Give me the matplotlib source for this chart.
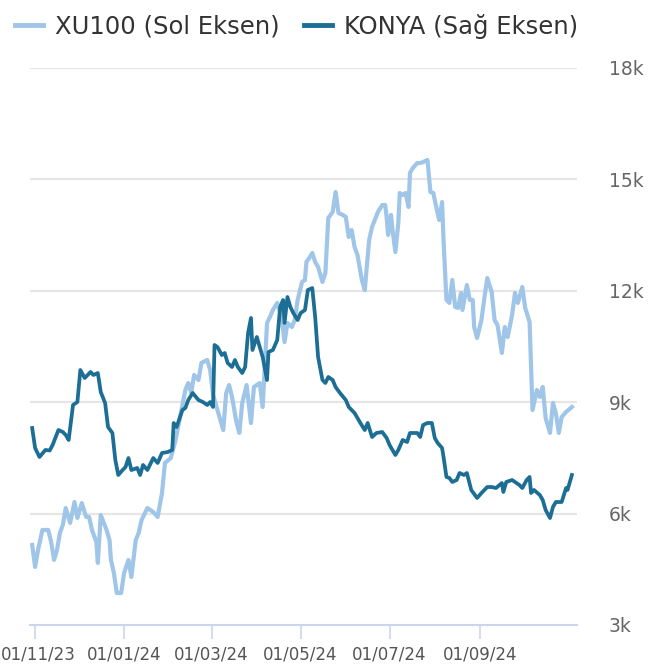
import matplotlib
matplotlib.use("Agg")
import matplotlib.pyplot as plt
import matplotlib.dates as mdates
import matplotlib.transforms as mtransforms
from matplotlib import font_manager
from matplotlib.ticker import FixedLocator, FuncFormatter
import pandas as pd

# XU100 (left axis, hidden scale)
xu_dates = [
    "2023-10-30", "2023-11-01", "2023-11-03", "2023-11-06", "2023-11-10", "2023-11-12",
    "2023-11-14", "2023-11-16", "2023-11-18", "2023-11-20", "2023-11-22", "2023-11-25",
    "2023-11-28", "2023-11-30", "2023-12-03", "2023-12-06", "2023-12-08", "2023-12-10",
    "2023-12-13", "2023-12-14", "2023-12-16", "2023-12-20", "2023-12-22", "2023-12-23",
    "2023-12-25", "2023-12-27", "2023-12-30", "2024-01-01", "2024-01-04", "2024-01-06",
    "2024-01-09", "2024-01-11", "2024-01-13", "2024-01-17", "2024-01-21", "2024-01-24",
    "2024-01-27", "2024-01-29", "2024-02-02", "2024-02-05", "2024-02-08", "2024-02-12",
    "2024-02-14", "2024-02-16", "2024-02-18", "2024-02-21", "2024-02-23", "2024-02-27",
    "2024-02-29", "2024-03-02", "2024-03-05", "2024-03-09", "2024-03-11", "2024-03-13",
    "2024-03-15", "2024-03-18", "2024-03-20", "2024-03-22", "2024-03-25", "2024-03-28",
    "2024-03-30", "2024-04-03", "2024-04-05", "2024-04-08", "2024-04-10", "2024-04-12",
    "2024-04-15", "2024-04-18", "2024-04-20", "2024-04-22", "2024-04-25", "2024-04-27",
    "2024-04-29", "2024-05-02", "2024-05-04", "2024-05-05", "2024-05-07", "2024-05-09",
    "2024-05-11", "2024-05-13", "2024-05-16", "2024-05-18", "2024-05-20", "2024-05-23",
    "2024-05-25", "2024-05-27", "2024-05-30", "2024-06-01", "2024-06-03", "2024-06-05",
    "2024-06-07", "2024-06-09", "2024-06-12", "2024-06-14", "2024-06-15", "2024-06-17",
    "2024-06-19", "2024-06-23", "2024-06-26", "2024-06-28", "2024-06-29", "2024-06-30",
    "2024-07-02", "2024-07-03", "2024-07-05", "2024-07-07", "2024-07-08", "2024-07-10",
    "2024-07-12", "2024-07-14", "2024-07-15", "2024-07-17", "2024-07-20", "2024-07-22",
    "2024-07-24", "2024-07-27", "2024-07-29", "2024-07-31", "2024-08-02", "2024-08-04",
    "2024-08-06", "2024-08-07", "2024-08-09", "2024-08-11", "2024-08-13", "2024-08-15",
    "2024-08-17", "2024-08-19", "2024-08-20", "2024-08-23", "2024-08-25", "2024-08-27",
    "2024-08-28", "2024-08-30", "2024-09-02", "2024-09-04", "2024-09-06", "2024-09-09",
    "2024-09-11", "2024-09-13", "2024-09-16", "2024-09-18", "2024-09-20", "2024-09-23",
    "2024-09-25", "2024-09-27", "2024-09-30", "2024-10-02", "2024-10-05", "2024-10-07",
    "2024-10-10", "2024-10-12", "2024-10-14", "2024-10-16", "2024-10-19", "2024-10-21",
    "2024-10-23", "2024-10-25", "2024-10-27", "2024-10-30", "2024-11-03",
]
xu_values = [
    7718, 7521, 7673, 7853, 7853, 7745,
    7584, 7673, 7826, 7898, 8050, 7916,
    8104, 7961, 8095, 7970, 7970, 7853,
    7745, 7557, 7987, 7853, 7763, 7584,
    7467, 7287, 7287, 7467, 7584, 7431,
    7763, 7826, 7943, 8050, 8014, 7970,
    8185, 8454, 8499, 8643, 8840, 9110,
    9172, 9083, 9244, 9199, 9352, 9379,
    9289, 9065, 8930, 8750, 9083, 9154,
    9047, 8822, 8724, 8993, 9154, 8813,
    9136, 9172, 8957, 9711, 9765, 9828,
    9891, 9765, 9540, 9711, 9675, 9738,
    9918, 10079, 10097, 10259, 10295, 10339,
    10259, 10214, 10079, 10160, 10654, 10707,
    10887, 10698, 10681, 10663, 10483, 10546,
    10393, 10322, 10097, 10007, 10160, 10456,
    10573, 10707, 10770, 10770, 10663, 10501,
    10681, 10546, 10348, 10609, 10878, 10860,
    10878, 10752, 11058, 11103, 11147, 11147,
    11156, 11174, 10887, 10878, 10752, 10636,
    10797, 10456, 9918, 9891, 10097, 9855,
    9846, 9980, 9828, 10052, 9918, 9918,
    9675, 9576, 9738, 9935, 10115, 9989,
    9738, 9693, 9442, 9675, 9585, 9783,
    9980, 9891, 10034, 9846, 9720, 8930,
    9110, 9047, 9137, 8858, 8724, 8993,
    8903, 8724, 8867, 8912, 8957,
]

# KONYA (right axis)
ko_dates = [
    "2023-10-30", "2023-11-01", "2023-11-04", "2023-11-08", "2023-11-11", "2023-11-13",
    "2023-11-17", "2023-11-20", "2023-11-22", "2023-11-24", "2023-11-27", "2023-11-30",
    "2023-12-02", "2023-12-05", "2023-12-09", "2023-12-11", "2023-12-14", "2023-12-16",
    "2023-12-19", "2023-12-21", "2023-12-24", "2023-12-26", "2023-12-28", "2023-12-31",
    "2024-01-02", "2024-01-04", "2024-01-06", "2024-01-10", "2024-01-12", "2024-01-14",
    "2024-01-17", "2024-01-21", "2024-01-24", "2024-01-27", "2024-01-31", "2024-02-03",
    "2024-02-04", "2024-02-06", "2024-02-10", "2024-02-12", "2024-02-14", "2024-02-17",
    "2024-02-21", "2024-02-24", "2024-02-27", "2024-02-29", "2024-03-02", "2024-03-03",
    "2024-03-05", "2024-03-08", "2024-03-10", "2024-03-12", "2024-03-15", "2024-03-17",
    "2024-03-19", "2024-03-22", "2024-03-24", "2024-03-26", "2024-03-28", "2024-03-29",
    "2024-04-01", "2024-04-03", "2024-04-05", "2024-04-08", "2024-04-09", "2024-04-12",
    "2024-04-15", "2024-04-17", "2024-04-19", "2024-04-20", "2024-04-22", "2024-04-24",
    "2024-04-26", "2024-04-29", "2024-05-01", "2024-05-04", "2024-05-06", "2024-05-09",
    "2024-05-11", "2024-05-13", "2024-05-16", "2024-05-18", "2024-05-20", "2024-05-23",
    "2024-05-25", "2024-05-28", "2024-06-01", "2024-06-03", "2024-06-05", "2024-06-07",
    "2024-06-11", "2024-06-14", "2024-06-16", "2024-06-19", "2024-06-22", "2024-06-26",
    "2024-06-29", "2024-07-01", "2024-07-05", "2024-07-07", "2024-07-10", "2024-07-13",
    "2024-07-15", "2024-07-20", "2024-07-22", "2024-07-24", "2024-07-27", "2024-07-30",
    "2024-08-01", "2024-08-03", "2024-08-06", "2024-08-07", "2024-08-09", "2024-08-11",
    "2024-08-13", "2024-08-16", "2024-08-18", "2024-08-21", "2024-08-23", "2024-08-26",
    "2024-08-30", "2024-09-02", "2024-09-06", "2024-09-09", "2024-09-12", "2024-09-16",
    "2024-09-17", "2024-09-19", "2024-09-23", "2024-09-25", "2024-09-28", "2024-09-30",
    "2024-10-03", "2024-10-05", "2024-10-06", "2024-10-08", "2024-10-12", "2024-10-14",
    "2024-10-16", "2024-10-19", "2024-10-21", "2024-10-23", "2024-10-27", "2024-10-30",
    "2024-10-31", "2024-11-03",
]
ko_values = [
    8305, 7767, 7524, 7713, 7700, 7847,
    8251, 8197, 8117, 7982, 8925, 9006,
    9867, 9652, 9813, 9733, 9786, 9275,
    8978, 8332, 8170, 7443, 7040, 7174,
    7255, 7497, 7174, 7228, 7040, 7309,
    7174, 7497, 7363, 7632, 7659, 7713,
    8440, 8332, 8790, 8844, 9059, 9248,
    9059, 9005, 8925, 9005, 8871, 10540,
    10487, 10271, 10325, 10056, 9948, 10136,
    9948, 9786, 9948, 10864, 11268, 10406,
    10756, 10487, 10217, 9598, 10352, 10406,
    10675, 11564, 11752, 11133, 11833, 11564,
    11402, 11214, 11402, 11483, 12022, 12075,
    11295, 10217, 9598, 9517, 9679, 9598,
    9409, 9248, 9059, 8871, 8790, 8709,
    8440, 8251, 8440, 8063, 8171, 8197,
    8036, 7847, 7578, 7713, 7982, 7928,
    8171, 8171, 8063, 8386, 8440, 8440,
    8036, 7901, 7767, 7524, 6986, 6959,
    6851, 6905, 7093, 7040, 7093, 6636,
    6420, 6555, 6716, 6716, 6689, 6824,
    6582, 6851, 6905, 6851, 6770, 6689,
    6905, 6986, 6555, 6636, 6501, 6366,
    6097, 5881, 6178, 6312, 6312, 6689,
    6636, 7040,
]

xtick_dates = ["2023-11-01", "2024-01-01", "2024-03-01", "2024-05-01", "2024-07-01", "2024-09-01"]
right_ticks = [3000, 6000, 9000, 12000, 15000, 18000]

LIGHT = "#9fc5e8"
DARK = "#1c6e95"

installed = {f.name for f in font_manager.fontManager.ttflist}
NARROW = "Liberation Sans Narrow" if "Liberation Sans Narrow" in installed else "DejaVu Sans"

xu_x = pd.to_datetime(xu_dates)
ko_x = pd.to_datetime(ko_dates)

fig = plt.figure(figsize=(6.61, 6.68), dpi=100)
ax = fig.add_axes([30 / 661, 1 - 625 / 668, 547 / 661, 557 / 668])
ax_r = ax.twinx()

ax.plot(xu_x, xu_values, color=LIGHT, linewidth=3.0, solid_joinstyle="round")
ax.set_ylim(7000, 12000)
ax.set_yticks([])

ax_r.plot(ko_x, ko_values, color=DARK, linewidth=2.7, solid_joinstyle="round")
ax_r.set_ylim(3000, 18000)
ax_r.yaxis.set_major_locator(FixedLocator(right_ticks))
ax_r.yaxis.set_major_formatter(FuncFormatter(lambda v, _: f"{int(v / 1000)}k"))
ax_r.tick_params(axis="y", length=0, pad=23, labelsize=13.5, labelcolor="#666666")

# gridlines on the main axes so they stay behind both series
for v in right_ticks[1:]:
    ax.axhline(7000 + (v - 3000) / 3, color="#e6e6e6", linewidth=1.6, zorder=0)

ax.set_xlim(pd.Timestamp("2023-10-28 12:00"), pd.Timestamp("2024-11-06 12:00"))
ax.set_xticks(pd.to_datetime(xtick_dates))
ax.xaxis.set_major_formatter(mdates.DateFormatter("%d/%m/%y"))
ax.tick_params(axis="x", length=10, width=1.2, color="#ccd6eb", pad=5,
               labelsize=12, labelcolor="#555555")
xlabels = ax.get_xticklabels()
for lbl in xlabels:
    lbl.set_family(NARROW)
# keep the first date label inside the canvas
xlabels[0].set_transform(xlabels[0].get_transform() +
                         mtransforms.ScaledTranslation(3 / 100, 0, fig.dpi_scale_trans))

for a in (ax, ax_r):
    for side in ("top", "left", "right"):
        a.spines[side].set_visible(False)
ax.spines["bottom"].set_color("#ccd6eb")
ax.spines["bottom"].set_linewidth(1.5)
ax_r.spines["bottom"].set_visible(False)

# legend on top
handles = [
    plt.Line2D([], [], color=LIGHT, linewidth=3.5),
    plt.Line2D([], [], color=DARK, linewidth=3.5),
]
fig.legend(handles, ["XU100 (Sol Eksen)", "KONYA (Sağ Eksen)"],
           loc="upper left", bbox_to_anchor=(-0.01, 1.012), ncol=2, frameon=False,
           prop={"family": NARROW, "size": 17.5}, handlelength=1.15,
           handletextpad=0.5, columnspacing=1.0, labelcolor="#333333")

fig.savefig("out.png", dpi=100, facecolor="white")
